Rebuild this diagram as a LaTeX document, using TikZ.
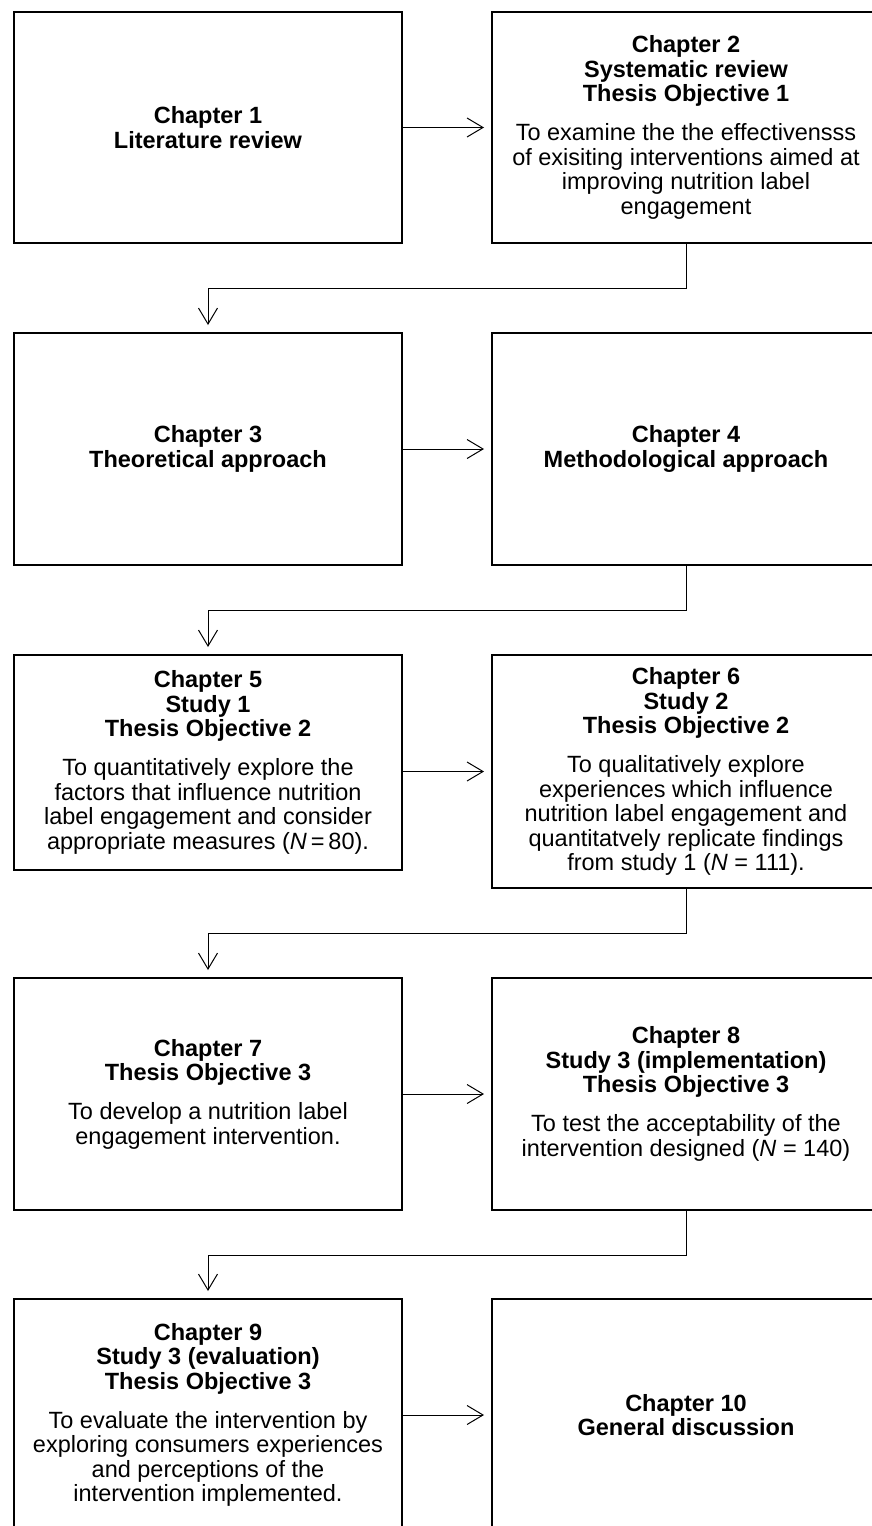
\documentclass[tikz,border=0pt]{standalone}
\usepackage{fontspec}
\setmainfont{Liberation Sans}
\usetikzlibrary{arrows.meta}
\begin{document}
\begin{tikzpicture}[x=1pt,y=-1pt,
  chapbox/.style={draw, line width=2pt, minimum width=388pt, inner sep=0pt,
    outer sep=0pt, align=center, font=\fontsize{23.5}{24.5}\selectfont},
  link/.style={line width=1pt, -{Straight Barb[length=16pt,width=19pt]}, shorten >=8pt}]
\clip (0,0) rectangle (872,1526);

% row 1
\node[chapbox, minimum height=231pt] (c1) at (208,127.5)
  {\textbf{Chapter 1}\\\textbf{Literature review}};
\node[chapbox, minimum height=231pt] (c2) at (686,127.5)
  {\textbf{Chapter 2}\\\textbf{Systematic review}\\\textbf{Thesis Objective 1}\\[14.5pt]
   To examine the the effectivensss\\of exisiting interventions aimed at\\improving nutrition label\\engagement};

% row 2
\node[chapbox, minimum height=232pt] (c3) at (208,449)
  {\textbf{Chapter 3}\\\textbf{Theoretical approach}};
\node[chapbox, minimum height=232pt] (c4) at (686,449)
  {\textbf{Chapter 4}\\\textbf{Methodological approach}};

% row 3
\node[chapbox, minimum height=215pt] (c5) at (208,762.5)
  {\textbf{Chapter 5}\\\textbf{Study 1}\\\textbf{Thesis Objective 2}\\[14.5pt]
   To quantitatively explore the\\factors that influence nutrition\\label engagement and consider\\appropriate measures (\textit{N}\,=\,80).};
\node[chapbox, minimum height=233pt] (c6) at (686,771.5)
  {\textbf{Chapter 6}\\\textbf{Study 2}\\\textbf{Thesis Objective 2}\\[14.5pt]
   To qualitatively explore\\experiences which influence\\nutrition label engagement and\\quantitatvely replicate findings\\from study 1 (\textit{N} = 111).};

% row 4
\node[chapbox, minimum height=232pt] (c7) at (208,1094)
  {\textbf{Chapter 7}\\\textbf{Thesis Objective 3}\\[14.5pt]
   To develop a nutrition label\\engagement intervention.};
\node[chapbox, minimum height=232pt] (c8) at (686,1094)
  {\textbf{Chapter 8}\\\textbf{Study 3 (implementation)}\\\textbf{Thesis Objective 3}\\[14.5pt]
   To test the acceptability of the\\intervention designed (\textit{N} = 140)};

% row 5
\node[chapbox, minimum height=232pt] (c9) at (208,1415)
  {\textbf{Chapter 9}\\\textbf{Study 3 (evaluation)}\\\textbf{Thesis Objective 3}\\[14.5pt]
   To evaluate the intervention by\\exploring consumers experiences\\and perceptions of the\\intervention implemented.};
\node[chapbox, minimum height=232pt] (c10) at (686,1415)
  {\textbf{Chapter 10}\\\textbf{General discussion}};

% left-to-right links
\draw[link] (c1.east |- c2.west) -- (c2.west);
\draw[link] (c3.east |- c4.west) -- (c4.west);
\draw[link] (c5.east |- c6.west) -- (c6.west);
\draw[link] (c7.east |- c8.west) -- (c8.west);
\draw[link] (c9.east |- c10.west) -- (c10.west);

% links down to the next row
\draw[link] (c2.south) -- ++(0,45) -| (c3.north);
\draw[link] (c4.south) -- ++(0,45) -| (c5.north);
\draw[link] (c6.south) -- ++(0,45) -| (c7.north);
\draw[link] (c8.south) -- ++(0,45) -| (c9.north);
\end{tikzpicture}
\end{document}
